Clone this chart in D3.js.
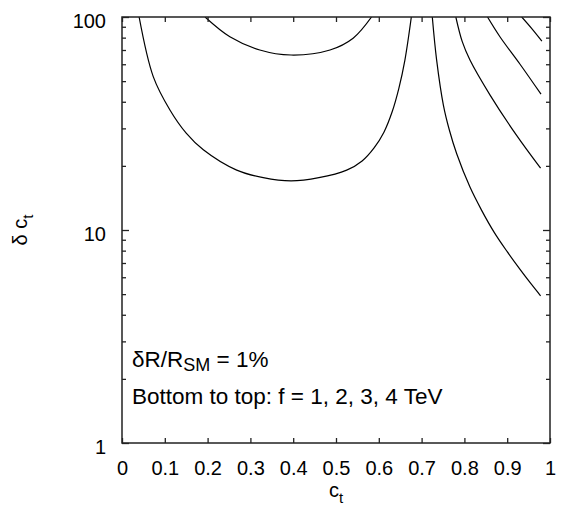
<!DOCTYPE html>
<html>
<head>
<meta charset="utf-8">
<script src="https://cdn.jsdelivr.net/npm/d3@7"></script>
<style>
  body { margin: 0; background: #fff; }
  svg { display: block; font-family: "Liberation Sans", Arial, Helvetica, sans-serif; }
</style>
</head>
<body>
<script>
const width = 570
const height = 514
const margin = {top: 17, right: 20, bottom: 71, left: 122}

// x tick labels and y decades
const xTicks = [0, 0.1, 0.2, 0.3, 0.4, 0.5, 0.6, 0.7, 0.8, 0.9, 1]
const xTickLabels = ['0', '0.1', '0.2', '0.3', '0.4', '0.5', '0.6', '0.7', '0.8', '0.9', '1']
const yMajor = [1, 10, 100]
const yMinor = [2, 3, 4, 5, 6, 7, 8, 9, 20, 30, 40, 50, 60, 70, 80, 90]

// [c_t, delta c_t], clipped at delta c_t = 100
const f1Bowl = [[0.040, 100], [0.073, 52.5], [0.112, 36.6], [0.150, 28.5], [0.190, 23.8],
  [0.268, 19.1], [0.330, 17.6], [0.395, 17.0], [0.460, 17.6], [0.525, 19.1], [0.561, 21.1],
  [0.589, 24.3], [0.612, 28.8], [0.631, 35.8], [0.647, 46.4], [0.661, 62.8], [0.676, 100]]
const f2Bowl = [[0.194, 100], [0.252, 80.8], [0.322, 70.0], [0.395, 66.3], [0.486, 70.0],
  [0.540, 79.5], [0.583, 100]]
const f1Tail = [[0.725, 100], [0.735, 63.1], [0.751, 38.5], [0.765, 29.4], [0.782, 22.8],
  [0.813, 15.9], [0.840, 12.4], [0.870, 9.72], [0.900, 7.91], [0.930, 6.53], [0.955, 5.61],
  [0.978, 4.91]]
const f2Tail = [[0.780, 100], [0.795, 76.6], [0.813, 62.8], [0.860, 43.0], [0.922, 27.8],
  [0.978, 19.5]]
const f3Tail = [[0.854, 100], [0.883, 80.8], [0.930, 60.0], [0.979, 43.4]]
const f4Tail = [[0.934, 100], [0.957, 88.5], [0.981, 77.1]]

const curves = [f1Bowl, f2Bowl, f1Tail, f2Tail, f3Tail, f4Tail]

const svg = d3.select('body')
  .append('svg')
  .attr('width', width)
  .attr('height', height)

const x = d3.scaleLinear()
  .domain([0, 1])
  .range([margin.left, width - margin.right])
const y = d3.scaleLog()
  .domain([1, 100])
  .range([height - margin.bottom, margin.top])

const x0 = x(0), x1 = x(1), y0 = y(1), y1 = y(100)

svg.append('clipPath')
  .attr('id', 'plot')
  .append('rect')
  .attr('x', x0)
  .attr('y', y1)
  .attr('width', x1 - x0)
  .attr('height', y0 - y1)

const line = d3.line()
  .x((d) => x(d[0]))
  .y((d) => y(d[1]))
  .curve(d3.curveCatmullRom.alpha(0.5))

svg.append('g')
  .attr('clip-path', 'url(#plot)')
  .selectAll('path')
  .data(curves)
  .enter()
  .append('path')
  .attr('d', line)
  .attr('fill', 'none')
  .attr('stroke', '#000')
  .attr('stroke-width', 1.2)

// axes: ticks point inward on all four sides
const styleAxis = (g) => {
  g.select('.domain').remove()
  g.selectAll('line').attr('stroke', '#222').attr('stroke-width', 1.3)
  g.selectAll('text')
    .attr('fill', '#000')
    .style('font-size', '20px')
    .style('font-family', '"Liberation Sans", Arial, sans-serif')
}

svg.append('g')
  .attr('transform', `translate(0,${y0})`)
  .call(d3.axisBottom(x).tickValues(xTicks)
    .tickFormat((d, i) => xTickLabels[i])
    .tickSizeInner(-5).tickSizeOuter(0).tickPadding(18))
  .call(styleAxis)

svg.append('g')
  .attr('transform', `translate(0,${y1})`)
  .call(d3.axisTop(x).tickValues(xTicks).tickFormat('')
    .tickSizeInner(-5).tickSizeOuter(0))
  .call(styleAxis)

svg.append('g')
  .attr('transform', `translate(${x0},0)`)
  .call(d3.axisLeft(y).tickValues(yMajor).tickFormat(d3.format('d'))
    .tickSizeInner(-7).tickSizeOuter(0).tickPadding(16))
  .call(styleAxis)
  .call((g) => g.selectAll('text').attr('dy', '0.5em'))

svg.append('g')
  .attr('transform', `translate(${x0},0)`)
  .call(d3.axisLeft(y).tickValues(yMinor).tickFormat('')
    .tickSizeInner(-4).tickSizeOuter(0))
  .call(styleAxis)

svg.append('g')
  .attr('transform', `translate(${x1},0)`)
  .call(d3.axisRight(y).tickValues(yMajor).tickFormat('')
    .tickSizeInner(-7).tickSizeOuter(0))
  .call(styleAxis)

svg.append('g')
  .attr('transform', `translate(${x1},0)`)
  .call(d3.axisRight(y).tickValues(yMinor).tickFormat('')
    .tickSizeInner(-4).tickSizeOuter(0))
  .call(styleAxis)

svg.append('rect')
  .attr('x', x0)
  .attr('y', y1)
  .attr('width', x1 - x0)
  .attr('height', y0 - y1)
  .attr('fill', 'none')
  .attr('stroke', '#222')
  .attr('stroke-width', 1.5)

// axis titles
const xTitle = svg.append('text')
  .attr('x', (x0 + x1) / 2)
  .attr('y', 497)
  .attr('text-anchor', 'middle')
  .style('font-size', '20px')
xTitle.append('tspan').text('c')
xTitle.append('tspan').attr('dy', 6).style('font-size', '15px').text('t')

const yTitle = svg.append('text')
  .attr('transform', `translate(27,${(y0 + y1) / 2}) rotate(-90)`)
  .attr('text-anchor', 'middle')
  .style('font-size', '20px')
yTitle.append('tspan').text('δ c')
yTitle.append('tspan').attr('dy', 6).style('font-size', '15px').text('t')

// annotation
const note1 = svg.append('text')
  .attr('x', 132)
  .attr('y', 367)
  .style('font-size', '22.5px')
note1.append('tspan').text('δR/R')
note1.append('tspan').attr('dy', 4).style('font-size', '18px').text('SM')
note1.append('tspan').attr('dy', -4).text(' = 1%')

svg.append('text')
  .attr('x', 132)
  .attr('y', 404)
  .style('font-size', '22.5px')
  .text('Bottom to top: f = 1, 2, 3, 4 TeV')
</script>
</body>
</html>
